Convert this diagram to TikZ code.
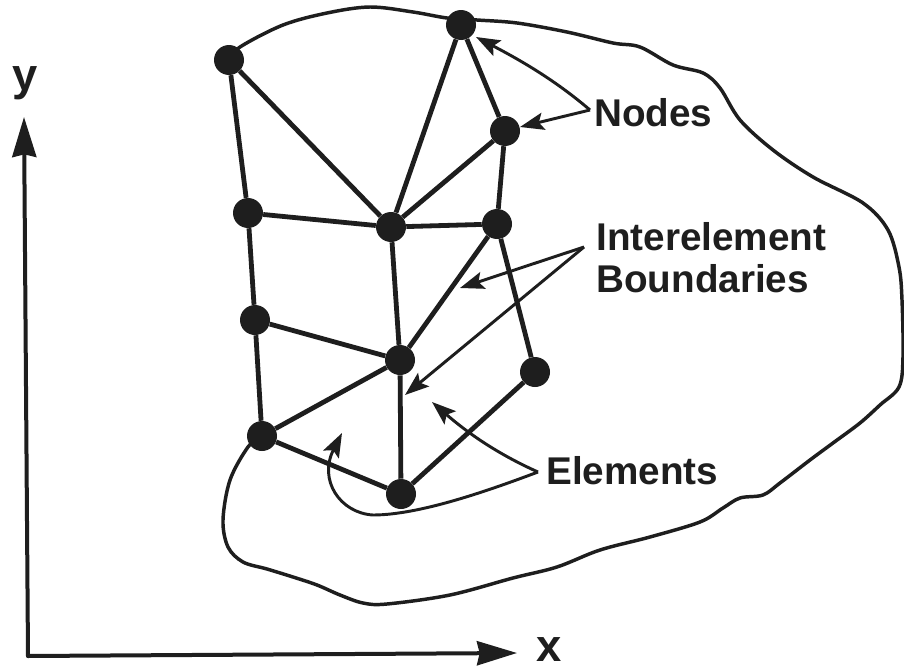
\documentclass[tikz,border=0pt]{standalone}
\usepackage{fontspec}
\setmainfont{Liberation Sans}
\usetikzlibrary{arrows.meta}
\definecolor{ink}{HTML}{1E1E1E}
\tikzset{
 fe/.style={circle,fill=ink,inner sep=0pt,minimum size=22.5pt},
 edge/.style={line width=3.6pt,ink},
 outl/.style={line width=2.6pt,ink},
 lbl/.style={font=\bfseries\fontsize{29pt}{31.5pt}\selectfont,text=ink,align=left,inner sep=0pt},
 axl/.style={font=\bfseries\fontsize{34pt}{34pt}\selectfont,text=ink,inner sep=0pt},
 arr/.style={line width=2.2pt,ink,-{Stealth[length=18pt,width=13pt,inset=3.5pt]}},
 axarr/.style={line width=3pt,ink,line cap=round,-{Stealth[length=30pt,width=18pt,inset=2pt]}},
}
\begin{document}
\begin{tikzpicture}[x=0.75pt,y=-0.75pt]
\useasboundingbox (0,0) rectangle (904,671);
\fill[white] (0,0) rectangle (904,671);
% boundary
\draw[outl,line join=round] plot[smooth,tension=0.55] coordinates {(229,60)(240,47)(283,25)(327,13)(370,7)(413,12)(447,18)(477,20)(517,23)(567,32)(613,43)(640,47)(673,65)(703,73)(720,88)(740,120)(773,150)(813,177)(863,203)(888,230)(899,267)(902,300)(903,357)(899,387)(880,405)(860,423)(833,443)(810,460)(780,483)(763,495)(740,498)(723,508)(700,522)(650,537)(600,550)(557,567)(513,578)(450,595)(387,604)(363,603)(340,595)(317,585)(293,577)(267,569)(243,562)(228,547)(223,520)(230,480)(248,447)(262,436)};
% nodes
\node[fe] (a) at (229,60) {};
\node[fe] (b) at (461,25) {};
\node[fe] (c) at (505,131) {};
\node[fe] (d) at (248,213) {};
\node[fe] (e) at (391,227) {};
\node[fe] (f) at (497,224) {};
\node[fe] (g) at (255,320) {};
\node[fe] (h) at (400,360) {};
\node[fe] (i) at (535,372) {};
\node[fe] (j) at (262,436) {};
\node[fe] (k) at (401,494) {};
% edges
\draw[edge] (a)--(d) (d)--(g) (g)--(j) (j)--(k) (k)--(i) (i)--(f) (f)--(c) (c)--(b) (b)--(e) (a)--(e) (c)--(e) (d)--(e) (e)--(f) (e)--(h) (f)--(h) (g)--(h) (h)--(j) (h)--(k);
% axes
\coordinate (o) at (28,656);
\coordinate (yt) at (24,117);
\coordinate (xt) at (517,653);
\draw[axarr] (o)--(yt);
\draw[axarr] (o)--(xt);
\node[axl,anchor=base] (yl) at (25,90) {y};
\node[axl,anchor=base] (xl) at (549,661) {x};
% labels
\node[lbl,anchor=base west] (nl) at (594,126) {Nodes};
\node[lbl,anchor=west] (il) at (596,258) {Interelement\\Boundaries};
\node[lbl,anchor=base west] (el) at (546,484) {Elements};
\coordinate (n0) at (590,110);
\coordinate (i0) at (584,247);
\coordinate (e0) at (538,472);
\draw[arr] (n0) .. controls (555,80) and (520,60) .. (476,37);
\draw[arr] (n0)--(520,127);
\draw[arr] (i0)--(460,288);
\draw[arr] (i0)--(405,395);
\draw[arr] (e0) .. controls (500,455) and (470,435) .. (432,402);
\draw[arr] (e0) .. controls (490,490) and (420,515) .. (373,515) .. controls (340,513) and (318,480) .. (342,433);
\end{tikzpicture}
\end{document}
